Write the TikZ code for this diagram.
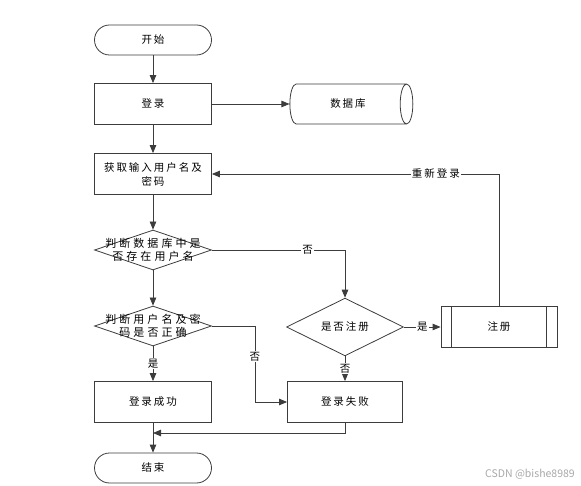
\documentclass[tikz,border=0pt]{standalone}
\usepackage{fontspec}
\setmainfont{Noto Sans CJK SC}
\usepackage{tikz}
\usetikzlibrary{positioning,shapes.geometric,arrows.meta,calc}
\definecolor{flowLine}{HTML}{3C3C3C}
\definecolor{markGray}{HTML}{A8A8A8}

\begin{document}
\begin{tikzpicture}[
    x=1pt, y=-1pt,
    every node/.style = {font=\fontsize{10.5}{14}\selectfont\addfontfeature{LetterSpace=19}, text=black},
    flowln/.style     = {draw=flowLine, line width=0.8pt},
    flowarr/.style    = {flowln, -{Triangle[length=8pt,width=6.5pt]}},
    termbox/.style    = {flowln, rounded corners=15pt, minimum width=117pt, minimum height=30pt, inner sep=0pt},
    procbox/.style    = {flowln, minimum width=117pt, minimum height=41pt, inner sep=0pt, align=center},
    decbox/.style     = {flowln, diamond, minimum width=117pt, minimum height=40pt, inner sep=0pt},
    dbbox/.style      = {flowln, cylinder, shape aspect=1.3, minimum height=123pt, minimum width=40pt, inner sep=0pt},
    dtxt/.style       = {align=center, font=\fontsize{11}{13}\selectfont\addfontfeature{LetterSpace=28}},
    elab/.style       = {fill=white, inner sep=1pt},
    wmark/.style      = {font=\fontsize{10.5}{12}\selectfont, text=markGray}
  ]
  \useasboundingbox (0,0) rectangle (581,486);

  % main column
  \node[termbox] (start) at (153,40) {开始};
  \node[procbox] (login) at (153,104) {登录};
  \node[dbbox] (db) at (348,104) {数据库};
  \node[procbox] (getinfo) at (153,174) {获取输入用户名及\\密码};
  \node[decbox, label={[dtxt]center:{判断数据库中是\\否存在用户名}}] (chkuser) at (153,250) {};
  \node[decbox, label={[dtxt]center:{判断用户名及密\\码是否正确}}] (chkpwd) at (153,326) {};
  \node[procbox] (ok) at (153,402) {登录成功};
  \node[termbox] (stop) at (153,468) {结束};

  % right side
  \node[decbox] (askreg) at (345,327) {是否注册};
  \node[procbox, minimum width=116pt] (reg) at (499,327) {注册};
  \draw[flowln] ($(reg.north west)+(11,0)$) -- ($(reg.south west)+(11,0)$);
  \draw[flowln] ($(reg.north east)+(-11,0)$) -- ($(reg.south east)+(-11,0)$);
  \node[procbox, minimum width=115pt] (fail) at (345,402) {登录失败};
  \coordinate (merge) at (153,433);

  \draw[flowarr] (start) -- (login);
  \draw[flowarr] (login) -- (db);
  \draw[flowarr] (login) -- (getinfo);
  \draw[flowarr] (getinfo) -- (chkuser);
  \draw[flowarr] (chkuser) -- (chkpwd);
  \draw[flowarr] (chkuser.east) -| node[elab, pos=0.36] {否} (askreg.north);
  \draw[flowarr] (chkpwd) -- node[elab] {是} (ok);
  \draw[flowarr] (chkpwd.east) -- ++(43,0) |- node[elab, pos=0.2] {否} (fail.west);
  \draw[flowarr] (askreg) -- node[elab] {是} (reg);
  \draw[flowarr] (askreg) -- node[elab] {否} (fail);
  \draw[flowarr] (reg.north) |- node[elab, pos=0.61] {重新登录} (getinfo.east);
  \draw[flowarr] (ok) -- (stop);
  \draw[flowarr] (fail.south) |- (merge);

  \node[wmark] (wm) at (530,474) {CSDN @bishe8989};
\end{tikzpicture}
\end{document}
